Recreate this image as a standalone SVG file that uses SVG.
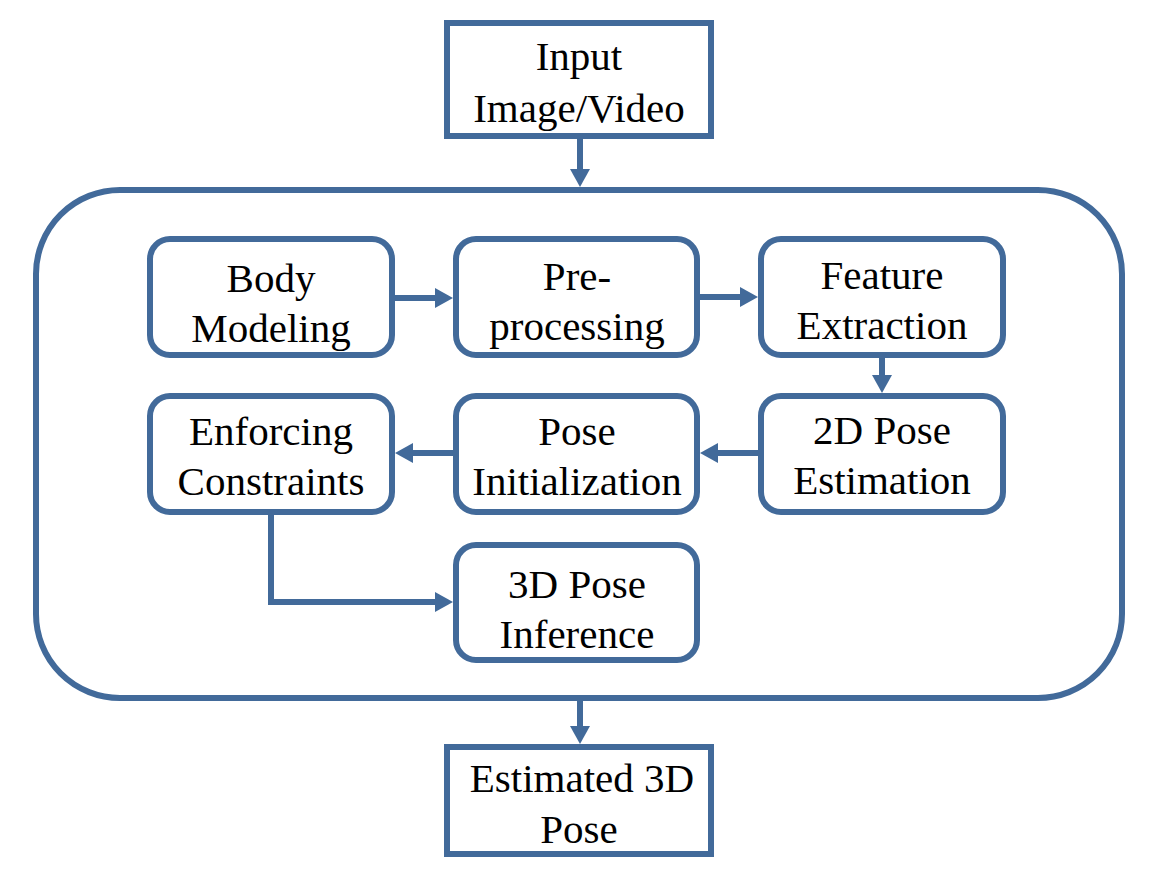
<svg xmlns="http://www.w3.org/2000/svg" width="1154" height="880" viewBox="0 0 1154 880">
<defs>
<marker id="ah" markerUnits="userSpaceOnUse" markerWidth="18" markerHeight="20" refX="0" refY="10" orient="auto" viewBox="0 0 18 20">
<path d="M0,0 L18,10 L0,20 z" fill="#426A9A"/>
</marker>
</defs>
<rect width="1154" height="880" fill="#fff"/>
<g id="container"><rect fill="none" stroke="#426A9A" stroke-width="6" x="36" y="190" width="1086" height="508" rx="84" ry="84"/></g>
<g id="input"><rect fill="#fff" stroke="#426A9A" stroke-width="6" x="447" y="23" width="264" height="113"/>
<text x="579" y="70" font-size="41" font-family="Liberation Serif, Times New Roman, serif" text-anchor="middle">Input</text>
<text x="579" y="122" font-size="41" font-family="Liberation Serif, Times New Roman, serif" text-anchor="middle">Image/Video</text></g>
<g id="body"><rect fill="#fff" stroke="#426A9A" stroke-width="6" x="150" y="239" width="242" height="116" rx="20"/>
<text x="271" y="292" font-size="41" font-family="Liberation Serif, Times New Roman, serif" text-anchor="middle">Body</text>
<text x="271" y="342" font-size="41" font-family="Liberation Serif, Times New Roman, serif" text-anchor="middle">Modeling</text></g>
<g id="pre"><rect fill="#fff" stroke="#426A9A" stroke-width="6" x="456" y="239" width="241" height="116" rx="20"/>
<text x="577" y="290" font-size="41" font-family="Liberation Serif, Times New Roman, serif" text-anchor="middle">Pre-</text>
<text x="577" y="340" font-size="41" font-family="Liberation Serif, Times New Roman, serif" text-anchor="middle">processing</text></g>
<g id="feature"><rect fill="#fff" stroke="#426A9A" stroke-width="6" x="761" y="239" width="242" height="116" rx="20"/>
<text x="882" y="289" font-size="41" font-family="Liberation Serif, Times New Roman, serif" text-anchor="middle">Feature</text>
<text x="882" y="339" font-size="41" font-family="Liberation Serif, Times New Roman, serif" text-anchor="middle">Extraction</text></g>
<g id="enforcing"><rect fill="#fff" stroke="#426A9A" stroke-width="6" x="150" y="396" width="242" height="116" rx="20"/>
<text x="271" y="445" font-size="41" font-family="Liberation Serif, Times New Roman, serif" text-anchor="middle">Enforcing</text>
<text x="271" y="495" font-size="41" font-family="Liberation Serif, Times New Roman, serif" text-anchor="middle">Constraints</text></g>
<g id="poseinit"><rect fill="#fff" stroke="#426A9A" stroke-width="6" x="456" y="396" width="241" height="116" rx="20"/>
<text x="577" y="445" font-size="41" font-family="Liberation Serif, Times New Roman, serif" text-anchor="middle">Pose</text>
<text x="577" y="495" font-size="41" font-family="Liberation Serif, Times New Roman, serif" text-anchor="middle">Initialization</text></g>
<g id="pose2d"><rect fill="#fff" stroke="#426A9A" stroke-width="6" x="761" y="396" width="242" height="116" rx="20"/>
<text x="882" y="444" font-size="41" font-family="Liberation Serif, Times New Roman, serif" text-anchor="middle">2D Pose</text>
<text x="882" y="494" font-size="41" font-family="Liberation Serif, Times New Roman, serif" text-anchor="middle">Estimation</text></g>
<g id="pose3d"><rect fill="#fff" stroke="#426A9A" stroke-width="6" x="456" y="545" width="241" height="115" rx="20"/>
<text x="577" y="598" font-size="41" font-family="Liberation Serif, Times New Roman, serif" text-anchor="middle">3D Pose</text>
<text x="577" y="648" font-size="41" font-family="Liberation Serif, Times New Roman, serif" text-anchor="middle">Inference</text></g>
<g id="output"><rect fill="#fff" stroke="#426A9A" stroke-width="6" x="447" y="747" width="264" height="107"/>
<text x="582" y="792" font-size="41" font-family="Liberation Serif, Times New Roman, serif" text-anchor="middle">Estimated 3D</text>
<text x="579" y="843" font-size="41" font-family="Liberation Serif, Times New Roman, serif" text-anchor="middle">Pose</text></g>
<g id="connectors" fill="none" stroke="#426A9A" stroke-width="6">
<path d="M580,139 V169" marker-end="url(#ah)"/>
<path d="M395,298 H435" marker-end="url(#ah)"/>
<path d="M700,297 H740" marker-end="url(#ah)"/>
<path d="M882,358 V375" marker-end="url(#ah)"/>
<path d="M758,453 H718" marker-end="url(#ah)"/>
<path d="M453,453 H413" marker-end="url(#ah)"/>
<path d="M271,515 V602 H435" marker-end="url(#ah)"/>
<path d="M580,701 V726" marker-end="url(#ah)"/>
</g>
</svg>
